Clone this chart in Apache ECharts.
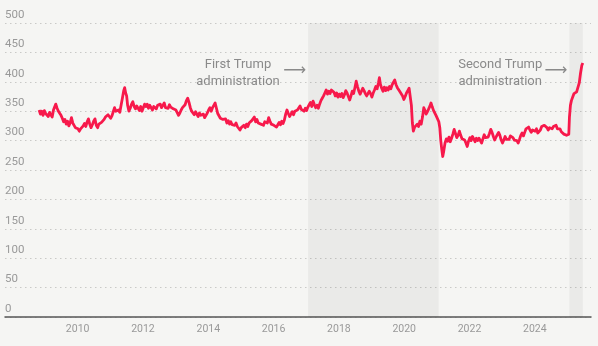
<!DOCTYPE html>
<html>
<head>
<meta charset="utf-8">
<style>
  html, body { margin: 0; padding: 0; background: #f5f5f3; }
  #chart { width: 598px; height: 346px; }
</style>
<script src="https://cdn.jsdelivr.net/npm/echarts@6/dist/echarts.min.js"></script>
</head>
<body>
<div id="chart"></div>
<script>
// Decimal-year dates and values
const dates = [
2008.82,2008.86,2008.90,2008.94,2008.98,2009.02,2009.06,2009.10,2009.14,2009.18,2009.22,2009.26,2009.30,2009.33,2009.37,2009.41,2009.45,2009.49,2009.53,2009.57,2009.61,2009.65,2009.69,2009.73,2009.77,2009.81,2009.85,2009.89,2009.93,2009.97,
2010.01,2010.05,2010.09,2010.13,2010.17,2010.21,2010.25,2010.29,2010.33,2010.37,2010.41,2010.45,2010.49,2010.53,2010.57,2010.61,2010.65,2010.69,2010.73,2010.77,2010.81,2010.85,2010.89,2010.93,2010.97,
2011.01,2011.05,2011.09,2011.13,2011.17,2011.21,2011.25,2011.29,2011.33,2011.37,2011.41,2011.44,2011.47,2011.50,2011.53,2011.57,2011.61,2011.65,2011.69,2011.73,2011.77,2011.81,2011.85,2011.89,2011.93,2011.97,
2012.01,2012.05,2012.09,2012.13,2012.17,2012.21,2012.25,2012.29,2012.33,2012.37,2012.41,2012.45,2012.49,2012.53,2012.57,2012.61,2012.65,2012.69,2012.73,2012.77,2012.81,2012.85,2012.89,2012.93,2012.97,
2013.01,2013.05,2013.09,2013.13,2013.17,2013.21,2013.25,2013.29,2013.33,2013.37,2013.41,2013.45,2013.49,2013.53,2013.57,2013.61,2013.65,2013.69,2013.73,2013.77,2013.81,2013.85,2013.89,2013.93,2013.97,
2014.01,2014.05,2014.09,2014.13,2014.17,2014.21,2014.25,2014.29,2014.33,2014.37,2014.41,2014.45,2014.49,2014.53,2014.57,2014.61,2014.65,2014.69,2014.73,2014.77,2014.81,2014.85,2014.89,2014.93,2014.97,
2015.01,2015.05,2015.09,2015.13,2015.17,2015.21,2015.25,2015.29,2015.33,2015.37,2015.41,2015.45,2015.49,2015.53,2015.57,2015.61,2015.65,2015.69,2015.73,2015.77,2015.81,2015.85,2015.89,2015.93,2015.97,
2016.01,2016.05,2016.09,2016.13,2016.17,2016.21,2016.25,2016.29,2016.33,2016.37,2016.41,2016.45,2016.49,2016.53,2016.57,2016.61,2016.65,2016.69,2016.73,2016.77,2016.81,2016.85,2016.89,2016.93,2016.97,
2017.01,2017.05,2017.09,2017.13,2017.17,2017.21,2017.25,2017.29,2017.33,2017.37,2017.41,2017.45,2017.49,2017.53,2017.57,2017.61,2017.65,2017.69,2017.73,2017.77,2017.81,2017.85,2017.89,2017.93,2017.97,
2018.01,2018.05,2018.09,2018.13,2018.17,2018.21,2018.25,2018.29,2018.33,2018.37,2018.41,2018.45,2018.49,2018.53,2018.57,2018.61,2018.65,2018.69,2018.73,2018.77,2018.81,2018.85,2018.89,2018.93,2018.97,
2019.01,2019.05,2019.09,2019.13,2019.17,2019.21,2019.24,2019.27,2019.31,2019.35,2019.39,2019.43,2019.47,2019.51,2019.55,2019.59,2019.63,2019.67,2019.71,2019.75,2019.79,2019.83,2019.87,2019.91,2019.95,2019.99,
2020.03,2020.07,2020.11,2020.15,2020.19,2020.22,2020.25,2020.28,2020.32,2020.36,2020.40,2020.44,2020.48,2020.52,2020.56,2020.60,2020.63,2020.67,2020.71,2020.75,2020.79,2020.82,2020.86,2020.90,2020.94,2020.98,
2021.02,2021.06,2021.09,2021.12,2021.15,2021.18,2021.21,2021.25,2021.29,2021.33,2021.37,2021.41,2021.45,2021.49,2021.53,2021.57,2021.61,2021.65,2021.69,2021.73,2021.77,2021.81,2021.85,2021.89,2021.93,2021.97,
2022.01,2022.05,2022.09,2022.13,2022.17,2022.21,2022.25,2022.29,2022.33,2022.37,2022.41,2022.45,2022.49,2022.53,2022.57,2022.61,2022.65,2022.69,2022.73,2022.77,2022.81,2022.85,2022.89,2022.93,2022.97,
2023.01,2023.05,2023.09,2023.13,2023.17,2023.21,2023.25,2023.29,2023.33,2023.37,2023.41,2023.45,2023.49,2023.53,2023.57,2023.61,2023.65,2023.69,2023.73,2023.77,2023.81,2023.85,2023.89,2023.93,2023.97,
2024.01,2024.05,2024.09,2024.13,2024.17,2024.21,2024.25,2024.29,2024.33,2024.37,2024.41,2024.45,2024.49,2024.53,2024.57,2024.61,2024.65,2024.69,2024.73,2024.77,2024.81,2024.85,2024.89,2024.93,2024.97,
2025.01,2025.04,2025.06,2025.09,2025.12,2025.16,2025.20,2025.24,2025.28,2025.32,2025.36,2025.40,2025.44,2025.47
];
const values = [
352,345,350,343,351,346,349,341,348,344,340,352,358,362,355,350,352,343,338,332,336,328,333,325,330,339,330,326,322,324,
320,316,320,318,325,329,324,332,337,328,322,327,333,337,326,322,328,326,331,334,336,340,337,344,341,
338,342,349,356,350,347,352,348,360,372,385,390,381,376,360,350,355,362,366,358,354,359,356,351,358,350,
356,362,358,362,355,360,356,352,358,361,354,360,357,362,356,360,364,356,359,355,361,357,359,354,357,
352,349,343,347,352,356,354,361,368,372,365,356,350,347,344,349,346,341,347,343,340,345,339,343,347,
352,356,350,356,360,364,355,346,343,338,341,336,333,337,330,334,328,332,327,329,326,330,324,321,318,
322,319,326,322,328,324,330,327,334,336,340,332,336,330,333,328,331,326,332,335,330,339,333,328,331,
326,329,323,327,331,327,333,329,335,345,352,346,341,345,349,344,350,347,352,355,359,353,356,350,355,
351,357,361,365,358,367,361,356,360,355,362,368,372,376,381,386,379,384,380,386,389,382,376,381,374,
379,375,380,373,378,385,381,375,369,376,384,380,390,401,392,384,379,384,389,385,380,376,378,384,380,
374,381,386,392,388,398,407,396,389,384,391,385,390,386,392,388,395,393,403,395,390,393,383,380,376,370,
375,381,385,389,387,360,330,316,323,321,328,324,333,328,340,356,352,345,349,354,359,364,357,351,348,342,
340,332,322,300,285,273,282,296,303,299,306,298,304,311,319,312,305,309,316,309,303,306,301,296,290,299,
305,300,307,303,298,304,300,304,300,296,303,310,305,302,306,312,319,314,307,301,306,310,314,309,301,
296,301,307,302,305,302,308,311,305,301,304,300,296,302,309,313,308,314,320,317,323,318,314,318,320,
316,320,313,312,318,324,321,326,329,322,318,322,325,320,324,322,326,320,318,320,315,314,311,313,309,
308,311,340,360,368,374,380,378,383,380,398,415,428,432
];
const yTicks = [0,50,100,150,200,250,300,350,400,450,500];
const xTickYears = [2010,2012,2014,2016,2018,2020,2022,2024];
const firstTerm = [2017.055, 2021.055];
const secondTerm = [2025.055, 2025.47];
const annotations = [
  { text: 'First Trump\nadministration', x: 2014.91, y: 415 },
  { text: 'Second Trump\nadministration', x: 2022.94, y: 415 }
];
const arrows = [
  { x: 2016.65, y: 418 },
  { x: 2024.65, y: 419 }
];

const seriesData = dates.map((d, i) => [d, values[i]]);

const chart = echarts.init(document.getElementById('chart'), null, { renderer: 'canvas' });
const FONT = 'Roboto, "Liberation Sans", sans-serif';
chart.setOption({
  animation: false,
  backgroundColor: '#f5f5f3',
  grid: { left: 5, right: 7, top: 23, bottom: 29, containLabel: false },
  xAxis: {
    type: 'value',
    min: 2007.775,
    max: 2025.72,
    axisLine: { show: true, lineStyle: { color: '#555', width: 1.5 } },
    axisTick: { show: false },
    splitLine: { show: false },
    axisLabel: {
      customValues: xTickYears,
      formatter: v => String(Math.round(v)),
      color: '#999',
      fontSize: 10.5,
      fontFamily: FONT,
      margin: 7
    }
  },
  yAxis: {
    type: 'value',
    min: 0,
    max: 500,
    interval: 50,
    axisLine: { show: false },
    axisTick: { show: false },
    splitLine: { show: true, lineStyle: { color: '#c9c9c7', type: [1.5, 3.5], width: 1 } },
    axisLabel: {
      inside: true,
      margin: 0,
      verticalAlign: 'bottom',
      padding: [0, 0, 2, 0],
      color: '#999',
      fontSize: 11.5,
      fontFamily: FONT
    }
  },
  series: [{
    type: 'line',
    data: seriesData,
    showSymbol: false,
    symbol: 'none',
    lineStyle: { color: '#f7194b', width: 2.8, join: 'round' },
    itemStyle: { color: '#f7194b' },
    z: 3,
    markArea: {
      silent: true,
      itemStyle: { color: 'rgba(0,0,0,0.045)' },
      data: [
        [{ xAxis: firstTerm[0] }, { xAxis: firstTerm[1] }],
        [{ xAxis: secondTerm[0] }, { xAxis: secondTerm[1] }]
      ]
    },
    markPoint: {
      silent: true,
      symbol: 'circle',
      symbolSize: 0,
      itemStyle: { color: 'rgba(0,0,0,0)' },
      label: {
        show: true,
        position: 'inside',
        color: '#8a8a8a',
        fontSize: 13,
        lineHeight: 17,
        align: 'center',
        fontFamily: FONT
      },
      data: annotations.map(a => ({
        coord: [a.x, a.y],
        label: { formatter: a.text }
      })).concat(arrows.map(a => ({
        coord: [a.x, a.y],
        label: { formatter: '\u27F6', fontFamily: '"DejaVu Sans", sans-serif', fontSize: 16, color: '#8a8a8a' }
      })))
    }
  }]
});
</script>
</body>
</html>
